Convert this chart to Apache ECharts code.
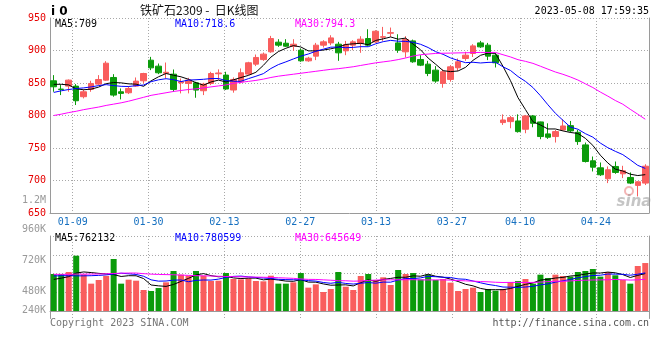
<!DOCTYPE html>
<html><head><meta charset="utf-8">
<script src="https://cdn.jsdelivr.net/npm/echarts@6/dist/echarts.min.js"></script>
<style>html,body{margin:0;padding:0;background:#fff}#c{width:660px;height:360px}</style>
</head><body><div id="c"></div>
<script>
// ---------- data ----------
const dates = ['01-04','01-05','01-06','01-09','01-10','01-11','01-12','01-13','01-16','01-17','01-18','01-19','01-20',
'01-30','01-31','02-01','02-02','02-03','02-06','02-07','02-08','02-09','02-10','02-13','02-14','02-15','02-16','02-17',
'02-20','02-21','02-22','02-23','02-24','02-27','02-28','03-01','03-02','03-03','03-06','03-07','03-08','03-09','03-10',
'03-13','03-14','03-15','03-16','03-17','03-20','03-21','03-22','03-23','03-24','03-27','03-28','03-29','03-30','03-31',
'04-03','04-04','04-06','04-07','04-10','04-11','04-12','04-13','04-14','04-17','04-18','04-19','04-20','04-21',
'04-24','04-25','04-26','04-27','04-28','05-04','05-05','05-08'];
const labelDates = ['01-09','01-30','02-13','02-27','03-13','03-27','04-10','04-24'];

const open  = [853.4,840.6,845.2,845.2,828.9,840.1,848.3,854.4,858.5,836.5,835.0,845.2,853.4,885.1,875.9,865.0,863.6,850.3,849.3,850.3,
838.1,849.3,864.2,862.2,839.2,851.9,863.7,879.0,886.0,898.0,912.8,911.2,906.6,900.5,884.1,891.3,908.2,911.7,909.7,899.5,
908.2,910.7,918.4,913.3,920.4,926.5,911.7,898.0,914.8,886.2,879.0,869.8,849.4,855.5,873.4,887.7,895.4,911.7,908.2,892.8,
789.1,790.6,791.6,778.8,799.3,790.1,771.7,767.6,777.8,784.4,774.2,754.8,730.3,719.5,702.7,721.6,710.3,704.7,692.5,696.0];
const close = [844.2,840.1,854.4,822.7,836.5,849.3,855.4,880.5,831.4,834.0,841.6,852.9,864.6,873.3,865.7,866.5,840.1,851.8,854.4,839.1,
848.3,864.6,865.4,840.7,855.5,865.7,881.1,889.3,894.4,918.4,908.2,906.6,909.7,884.1,888.2,908.2,913.3,919.4,896.4,909.2,
913.3,917.4,908.2,929.6,921.2,927.5,900.5,916.8,882.6,877.5,864.7,853.0,867.3,874.9,882.6,892.8,907.1,905.6,891.3,881.1,
793.1,796.7,775.2,799.3,788.0,767.6,766.6,775.2,783.9,776.3,759.9,729.2,720.5,708.8,716.5,712.4,714.9,696.0,698.0,722.0];
const low   = [836.5,831.4,836.5,816.1,826.3,836.5,846.8,853.4,828.9,824.8,833.0,844.2,849.3,869.8,863.6,857.0,836.5,834.0,834.0,827.3,
831.4,846.8,855.0,839.2,835.1,849.4,862.2,876.0,884.0,896.5,905.6,905.6,899.5,882.6,882.6,885.2,904.6,908.2,884.1,892.8,
900.5,896.4,906.6,911.7,914.8,921.0,896.4,889.2,881.1,876.0,860.6,850.4,842.7,852.0,868.8,884.1,890.0,904.0,885.2,873.9,
785.5,780.4,773.7,772.7,781.9,763.5,764.0,758.4,776.8,773.7,754.8,727.7,713.9,707.0,696.0,710.3,703.7,694.5,675.5,693.0];
const high  = [862.1,846.8,855.4,848.3,840.1,853.4,862.1,883.6,863.6,841.6,845.2,858.5,865.7,890.2,880.0,881.5,870.8,857.0,858.0,851.9,
850.3,867.2,871.0,867.3,858.6,872.4,882.6,893.8,896.9,922.5,917.4,917.4,917.4,903.0,890.3,911.7,915.8,923.5,913.3,914.8,
915.8,922.0,932.7,931.2,936.3,935.3,925.0,922.0,916.8,892.8,884.1,876.0,870.8,877.5,887.7,898.0,909.7,914.8,911.7,895.4,
801.8,799.3,801.8,800.8,800.8,790.6,788.0,777.8,794.2,791.6,777.8,758.4,736.9,727.7,721.6,729.2,722.6,712.4,699.0,725.0];

const ma5  = [848,848,847,841,839.6,840.6,843.7,849,850.7,850.2,848.7,848.2,844.9,853.3,859.6,864.6,862,859.5,855.7,850.4,
846.7,851.6,854.4,851.6,854.9,858.4,861.7,866.5,877.2,889.8,898.3,903.4,907.5,905.4,899.4,899.4,900.7,902.6,905.1,909.3,
910.3,911.1,908.9,915.5,917.9,920.8,917.4,919.1,909.7,901,888.4,878.9,869,867.5,868.5,874.1,884.9,892.6,895.9,895.6,
875.6,853.6,827.5,809.1,790.5,785.4,779.3,779.3,776.3,773.9,772.4,764.9,754,738.9,727,717.5,714.6,709.7,707.6,709];
const ma10 = [835.5,838,840,841.5,842.5,844,846,847.5,846,844.9,844.6,845.9,846.9,852,854.9,856.6,855.1,852.2,854.5,855,
855.7,856.8,856.9,853.7,852.6,852.6,856.7,860.4,864.4,872.3,878.3,882.5,887,891.3,894.6,898.8,902,905.1,905.3,904.3,
904.8,905.9,905.8,910.3,913.6,915.6,914.3,914,912.6,909.5,904.6,898.2,894.1,888.6,884.7,881.3,881.9,880.8,881.7,882,
874.9,869.3,860,852.5,843,830.5,816.5,803.4,792.7,782.2,778.9,772.1,766.7,757.6,750.5,744.9,739.8,731.8,723.3,718.6];
const ma30 = [800,802,804.5,806.5,809,811,813,815.5,817.5,819.5,822,825,828,831,833,835,837,838.5,840,841,
842.5,844,845.5,847,849.5,851,852.5,854,856,858.5,860.5,862,863.5,865,866.5,868,869.5,871,872,873.5,
875,877,879,881,882.5,884,886,888.5,891.5,893.5,894.5,895.5,895.8,896,896.3,896.5,896.8,897,897,897,
893.5,890.1,885.9,883.3,880.2,875.8,871.3,866.9,863.4,859.3,854.6,848.8,843,836.1,829.8,823.1,817.4,809.5,802,794.3];

// volume in thousands (K)
const volume = [474,474,499,708,469,350,397,448,666,350,401,388,269,256,294,367,512,465,452,512,
452,384,388,486,410,405,418,384,380,452,350,350,367,486,299,341,243,282,499,311,
269,448,474,397,431,333,525,474,486,405,465,397,410,363,256,282,299,243,282,260,
282,371,384,410,350,465,422,465,448,440,499,512,538,440,499,457,397,350,576,614];
const volMa5  = [405,420,440,486,500,492,482,474,466,442,452,451,415,333,322,315,340,379,418,462,
479,453,438,444,424,415,421,421,399,408,397,383,380,401,370,369,347,330,333,335,
321,362,400,380,404,417,432,432,450,445,471,445,433,408,378,342,322,289,272,273,
273,288,316,341,359,396,406,422,430,448,455,473,487,486,498,489,466,429,456,479];
const volMa10 = [448,452,452,450,450,452,456,462,473,484,476,468,445,399,382,384,395,397,375,392,
397,396,408,431,443,447,437,429,422,416,406,402,400,400,389,383,365,355,367,353,
345,355,365,356,370,369,397,416,415,424,444,439,432,429,411,406,384,361,340,326,
307,305,302,307,316,335,347,369,386,404,425,440,455,458,473,472,470,458,471,488];
const volMa30 = [469,469,470,472,472,473,474,476,480,484,486,486,478,472,468,466,464,460,456,452,
450,448,445,442,440,438,436,434,432,430,426,422,418,410,405,404,399,394,388,387,
382,384,391,396,400,399,400,400,401,398,398,398,399,395,390,386,382,377,374,368,
365,366,367,364,366,370,376,382,380,385,392,394,397,398,400,404,400,396,399,406];

const volTickLabels = {960:'960K', 720:'720K', 480:'480K', 240:'240K'};

// ---------- styling ----------
const RED = '#f95d5d', GREEN = '#0b9b0b';
const MONO = '"DejaVu Sans Mono", monospace';
const GRIDC = '#a8a8a8', AXISC = '#9a9a9a';
const labelSet = new Set(labelDates);
const atLabel = (i) => labelSet.has(dates[i]);

const candles = dates.map((d, i) => [open[i], close[i], low[i], high[i]]);

const chart = echarts.init(document.getElementById('c'), null, {renderer: 'canvas'});

const hidden = {show: false};
const option = {
  animation: false,
  backgroundColor: '#fff',
  grid: [
    {left: 50, right: 11, top: 18, height: 195},
    {left: 50, right: 11, top: 236, height: 82.5}
  ],
  xAxis: [
    {type: 'category', gridIndex: 0, data: dates, boundaryGap: true,
     axisLine: {show: true, lineStyle: {color: AXISC, width: 1}}, axisTick: hidden, axisLabel: hidden, splitLine: hidden},
    {type: 'category', gridIndex: 0, data: dates, boundaryGap: false, position: 'bottom', offset: 0,
     axisLine: hidden, axisTick: hidden,
     axisLabel: {show: true, interval: (i) => atLabel(i), margin: 4, color: '#1670c0', fontFamily: MONO, fontSize: 10},
     splitLine: {show: true, interval: (i) => atLabel(i), lineStyle: {color: GRIDC, type: [1, 2], width: 1}}},
    {type: 'category', gridIndex: 1, data: dates, boundaryGap: true,
     axisLine: {show: true, lineStyle: {color: AXISC, width: 1}}, axisTick: hidden, axisLabel: hidden, splitLine: hidden},
    {type: 'category', gridIndex: 1, data: dates, boundaryGap: false, position: 'bottom', offset: 0,
     axisLine: hidden, axisTick: hidden, axisLabel: hidden,
     splitLine: {show: true, interval: (i) => atLabel(i), lineStyle: {color: GRIDC, type: [1, 2], width: 1}}}
  ],
  yAxis: [
    {type: 'value', gridIndex: 0, min: 650, max: 950, interval: 50, position: 'left',
     axisLine: {show: true, lineStyle: {color: AXISC}}, axisTick: hidden,
     axisLabel: {color: '#e60000', fontFamily: MONO, fontSize: 10, margin: 4, padding: [0, 0, 3, 0]},
     splitLine: {show: true, lineStyle: {color: GRIDC, type: [1, 2]}}},
    {type: 'value', gridIndex: 1, min: -96, max: 960, interval: 48, position: 'left',
     axisLine: {show: true, lineStyle: {color: AXISC}}, axisTick: hidden,
     axisLabel: {color: '#999', fontFamily: MONO, fontSize: 10, margin: 4,
       formatter: (v) => {
         const t = volTickLabels[v];
         if (!t) return '';
         return '{' + ({960: 'a', 720: 'b', 480: 'c', 240: 'd'})[v] + '|' + t + '}';
       },
       rich: {
         a: {color: '#999', fontFamily: MONO, fontSize: 10, padding: [0, 0, 14, 0]},
         b: {color: '#999', fontFamily: MONO, fontSize: 10, padding: [12, 0, 0, 0]},
         c: {color: '#999', fontFamily: MONO, fontSize: 10, padding: [35, 0, 0, 0]},
         d: {color: '#999', fontFamily: MONO, fontSize: 10, padding: [37, 0, 0, 0]}
       }},
     splitLine: {show: true, lineStyle: {color: ['rgba(0,0,0,0)', 'rgba(0,0,0,0)', GRIDC, 'rgba(0,0,0,0)', 'rgba(0,0,0,0)'], type: [1, 2]}}},
    {type: 'value', gridIndex: 0, min: 650, max: 950, position: 'right',
     axisLine: {show: true, lineStyle: {color: AXISC}}, axisTick: hidden, axisLabel: hidden, splitLine: hidden},
    {type: 'value', gridIndex: 1, min: -96, max: 960, position: 'right',
     axisLine: {show: true, lineStyle: {color: AXISC}}, axisTick: hidden, axisLabel: hidden, splitLine: hidden}
  ],
  series: [
    {type: 'candlestick', xAxisIndex: 0, yAxisIndex: 0, data: candles, barWidth: 6, z: 2,
     itemStyle: {color: RED, color0: GREEN, borderColor: RED, borderColor0: GREEN, borderWidth: 1}},
    {type: 'line', xAxisIndex: 0, yAxisIndex: 0, data: ma5, symbol: 'none', z: 3, lineStyle: {color: '#000', width: 1}},
    {type: 'line', xAxisIndex: 0, yAxisIndex: 0, data: ma10, symbol: 'none', z: 3, lineStyle: {color: '#0000ff', width: 1}},
    {type: 'line', xAxisIndex: 0, yAxisIndex: 0, data: ma30, symbol: 'none', z: 3, lineStyle: {color: '#ff00ff', width: 1}},
    {type: 'bar', xAxisIndex: 2, yAxisIndex: 1, data: volume, barWidth: 6, z: 2,
     itemStyle: {color: (p) => close[p.dataIndex] >= open[p.dataIndex] ? RED : GREEN}},
    {type: 'line', xAxisIndex: 2, yAxisIndex: 1, data: volMa5, symbol: 'none', z: 3, lineStyle: {color: '#000', width: 1}},
    {type: 'line', xAxisIndex: 2, yAxisIndex: 1, data: volMa10, symbol: 'none', z: 3, lineStyle: {color: '#0000ff', width: 1}},
    {type: 'line', xAxisIndex: 2, yAxisIndex: 1, data: volMa30, symbol: 'none', z: 3, lineStyle: {color: '#ff00ff', width: 1}}
  ],
  graphic: [
    {type: 'text', x: 51, y: 12, style: {text: 'i 0', font: 'bold 12px "DejaVu Sans"', fill: '#000', verticalAlign: 'middle'}},
    {type: 'text', x: 140, y: 10, style: {text: '铁矿石2309 -  日K线图', font: '12px "Noto Sans CJK SC"', fill: '#111', verticalAlign: 'middle'}},
    {type: 'text', x: 649, y: 11, style: {text: '2023-05-08 17:59:35', font: '10px ' + MONO, fill: '#000', align: 'right', verticalAlign: 'middle'}},
    {type: 'text', x: 55, y: 24, z: 10, style: {text: 'MA5:709', font: '10px ' + MONO, fill: '#000', verticalAlign: 'middle'}},
    {type: 'text', x: 175, y: 24, z: 10, style: {text: 'MA10:718.6', font: '10px ' + MONO, fill: '#0000ff', verticalAlign: 'middle'}},
    {type: 'text', x: 295, y: 24, z: 10, style: {text: 'MA30:794.3', font: '10px ' + MONO, fill: '#ff00ff', verticalAlign: 'middle'}},
    {type: 'text', x: 55, y: 238.5, z: 10, style: {text: 'MA5:762132', font: '10px ' + MONO, fill: '#000', verticalAlign: 'middle'}},
    {type: 'text', x: 175, y: 238.5, z: 10, style: {text: 'MA10:780599', font: '10px ' + MONO, fill: '#0000ff', verticalAlign: 'middle'}},
    {type: 'text', x: 295, y: 238.5, z: 10, style: {text: 'MA30:645649', font: '10px ' + MONO, fill: '#ff00ff', verticalAlign: 'middle'}},
    {type: 'text', x: 46, y: 200.5, style: {text: '1.2M', font: '10px ' + MONO, fill: '#999', align: 'right', verticalAlign: 'middle'}},
    {type: 'text', x: 50, y: 323.5, style: {text: 'Copyright 2023 SINA.COM', font: '10px ' + MONO, fill: '#777', verticalAlign: 'middle'}},
    {type: 'text', x: 649, y: 323.5, style: {text: 'http://finance.sina.com.cn', font: '10px ' + MONO, fill: '#555', align: 'right', verticalAlign: 'middle'}},
    {type: 'circle', z: 1, shape: {cx: 629, cy: 191, r: 4}, style: {fill: 'none', stroke: 'rgba(235,120,120,0.55)', lineWidth: 2}},
    {type: 'text', x: 634, y: 202, z: 1, style: {text: 'sina', font: 'italic bold 15px "DejaVu Sans"', fill: 'rgba(150,150,150,0.55)', align: 'center', verticalAlign: 'middle'}}
  ]
};
chart.setOption(option);
</script>
</body></html>
